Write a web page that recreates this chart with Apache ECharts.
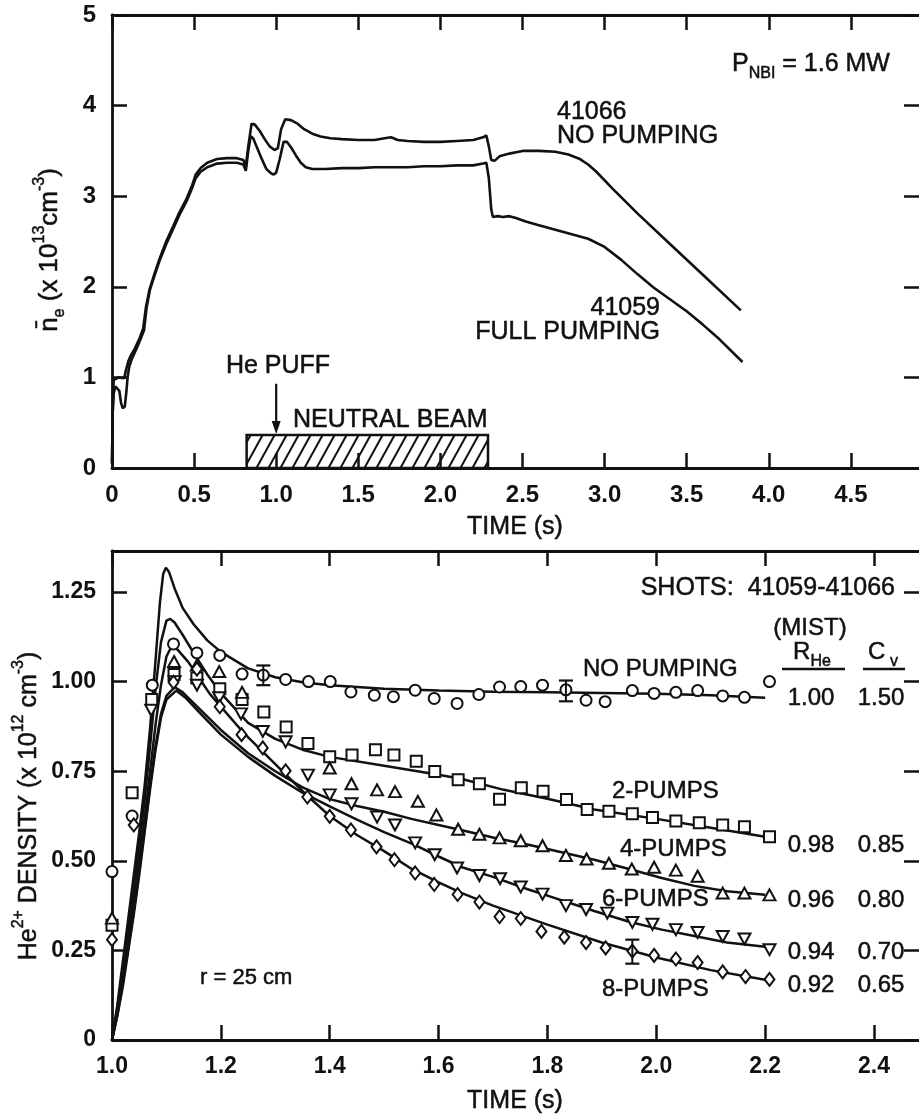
<!DOCTYPE html>
<html><head><meta charset="utf-8">
<script src="https://cdn.jsdelivr.net/npm/echarts@6/dist/echarts.min.js"></script>
<style>html,body{margin:0;padding:0;background:#fff}#c{width:919px;height:1116px}</style>
</head><body><div id="c"></div>
<script>
// ===== Top panel data =====
const topXTicks = [0, 0.5, 1, 1.5, 2, 2.5, 3, 3.5, 4, 4.5];
const topXTickLabels = ['0', '0.5', '1.0', '1.5', '2.0', '2.5', '3.0', '3.5', '4.0', '4.5'];
const topYTicks = [0, 1, 2, 3, 4, 5];
const topYTickLabels = ['0', '1', '2', '3', '4', '5'];
const shot41066 = [[0,0.05],[0.004,0.6],[0.01,0.97],[0.04,1.0],[0.074,0.99],[0.085,1.08],[0.1,1.18],[0.114,1.24],[0.14,1.32],[0.17,1.44],[0.19,1.54],[0.207,1.78],[0.23,1.98],[0.26,2.15],[0.29,2.31],[0.33,2.5],[0.373,2.67],[0.41,2.82],[0.456,2.98],[0.49,3.13],[0.51,3.24],[0.54,3.31],[0.58,3.37],[0.64,3.41],[0.7,3.42],[0.76,3.42],[0.8,3.4],[0.815,3.33],[0.83,3.55],[0.85,3.8],[0.87,3.79],[0.9,3.72],[0.93,3.63],[0.96,3.55],[0.99,3.51],[1.01,3.53],[1.03,3.74],[1.055,3.85],[1.09,3.84],[1.13,3.8],[1.17,3.74],[1.22,3.69],[1.27,3.66],[1.33,3.64],[1.4,3.63],[1.5,3.62],[1.6,3.62],[1.66,3.64],[1.7,3.65],[1.74,3.62],[1.8,3.61],[1.9,3.6],[2.0,3.6],[2.1,3.61],[2.2,3.62],[2.26,3.65],[2.28,3.67],[2.295,3.55],[2.31,3.4],[2.33,3.39],[2.36,3.44],[2.42,3.47],[2.5,3.5],[2.6,3.5],[2.7,3.49],[2.78,3.46],[2.85,3.41],[2.9,3.35],[2.95,3.27],[3.05,3.08],[3.2,2.81],[3.4,2.47],[3.6,2.13],[3.83,1.74]];
const shot41059 = [[0,0.05],[0.004,0.6],[0.01,0.82],[0.02,0.9],[0.03,0.92],[0.045,0.85],[0.055,0.72],[0.065,0.66],[0.078,0.68],[0.088,0.85],[0.095,1.0],[0.105,1.12],[0.12,1.2],[0.15,1.32],[0.18,1.45],[0.195,1.52],[0.21,1.76],[0.23,1.96],[0.26,2.13],[0.29,2.29],[0.33,2.47],[0.373,2.64],[0.41,2.79],[0.456,2.95],[0.49,3.1],[0.51,3.2],[0.54,3.27],[0.58,3.32],[0.64,3.36],[0.7,3.37],[0.76,3.37],[0.8,3.35],[0.815,3.28],[0.83,3.5],[0.845,3.66],[0.86,3.64],[0.88,3.55],[0.91,3.42],[0.94,3.3],[0.97,3.25],[0.985,3.24],[1.0,3.26],[1.02,3.4],[1.045,3.6],[1.065,3.6],[1.09,3.54],[1.12,3.45],[1.15,3.37],[1.18,3.32],[1.22,3.3],[1.3,3.3],[1.4,3.31],[1.5,3.31],[1.6,3.32],[1.7,3.32],[1.8,3.32],[1.9,3.33],[2.0,3.33],[2.1,3.34],[2.2,3.34],[2.26,3.36],[2.28,3.37],[2.295,3.2],[2.31,2.85],[2.32,2.77],[2.35,2.78],[2.38,2.77],[2.42,2.78],[2.46,2.76],[2.52,2.72],[2.6,2.68],[2.7,2.63],[2.8,2.58],[2.9,2.53],[3.0,2.44],[3.1,2.3],[3.2,2.14],[3.3,1.99],[3.4,1.86],[3.5,1.73],[3.6,1.58],[3.7,1.42],[3.84,1.17]];
const neutralBeam = [[0.82, 2.29, 0.365]];   // start time, end time, bar height
const hePuffArrow = [[1.0, 0.93, 0.375]];     // time, arrow top, arrow tip

// ===== Bottom panel data =====
const botXTicks = [1.0, 1.2, 1.4, 1.6, 1.8, 2.0, 2.2, 2.4];
const botXTickLabels = ['1.0', '1.2', '1.4', '1.6', '1.8', '2.0', '2.2', '2.4'];
const botYTicks = [0, 0.25, 0.5, 0.75, 1.0, 1.25];
const botYTickLabels = ['0', '0.25', '0.50', '0.75', '1.00', '1.25'];

const fitNoPump = [[1.0,0],[1.01,0.1],[1.02,0.22],[1.03,0.34],[1.04,0.46],[1.05,0.58],[1.06,0.71],[1.07,0.87],[1.08,1.06],[1.088,1.22],[1.094,1.3],[1.099,1.318],[1.105,1.305],[1.115,1.26],[1.13,1.205],[1.15,1.16],[1.175,1.115],[1.2,1.083],[1.25,1.037],[1.3,1.012],[1.35,0.998],[1.4,0.99],[1.5,0.98],[1.6,0.975],[1.7,0.972],[1.8,0.97],[1.9,0.968],[2.0,0.966],[2.1,0.962],[2.2,0.955]];
const fit2Pumps = [[1.0,0],[1.01,0.09],[1.02,0.2],[1.03,0.31],[1.04,0.42],[1.05,0.54],[1.06,0.67],[1.07,0.82],[1.08,0.98],[1.09,1.11],[1.1,1.17],[1.107,1.175],[1.115,1.165],[1.13,1.13],[1.15,1.08],[1.175,1.02],[1.2,0.968],[1.25,0.885],[1.3,0.84],[1.35,0.81],[1.4,0.79],[1.5,0.765],[1.6,0.74],[1.643,0.728],[1.72,0.698],[1.8,0.673],[1.886,0.643],[2.0,0.617],[2.1,0.592],[2.2,0.567]];
const fit4Pumps = [[1.0,0],[1.01,0.07],[1.02,0.16],[1.03,0.26],[1.04,0.36],[1.05,0.47],[1.06,0.59],[1.07,0.71],[1.08,0.82],[1.09,0.91],[1.1,0.96],[1.115,0.985],[1.13,0.97],[1.15,0.94],[1.2,0.865],[1.25,0.8],[1.3,0.75],[1.35,0.705],[1.4,0.672],[1.45,0.653],[1.5,0.637],[1.55,0.617],[1.6,0.6],[1.643,0.585],[1.7,0.565],[1.765,0.545],[1.8,0.533],[1.886,0.503],[1.95,0.477],[2.01,0.452],[2.07,0.43],[2.13,0.415],[2.2,0.405]];
const fit6Pumps = [[1.0,0],[1.01,0.07],[1.02,0.15],[1.03,0.25],[1.04,0.35],[1.05,0.46],[1.06,0.58],[1.07,0.7],[1.08,0.81],[1.09,0.9],[1.1,0.95],[1.118,0.975],[1.135,0.955],[1.16,0.915],[1.2,0.852],[1.25,0.79],[1.3,0.737],[1.35,0.69],[1.4,0.652],[1.45,0.615],[1.5,0.58],[1.555,0.545],[1.6,0.512],[1.643,0.482],[1.7,0.455],[1.765,0.42],[1.8,0.403],[1.886,0.36],[1.95,0.33],[2.01,0.308],[2.07,0.29],[2.13,0.272],[2.2,0.26]];
const fit8Pumps = [[1.0,0],[1.01,0.08],[1.02,0.18],[1.03,0.28],[1.04,0.38],[1.05,0.5],[1.06,0.62],[1.07,0.75],[1.08,0.88],[1.09,0.99],[1.1,1.07],[1.11,1.1],[1.12,1.09],[1.14,1.055],[1.16,1.01],[1.18,0.965],[1.2,0.93],[1.24,0.86],[1.28,0.8],[1.32,0.74],[1.36,0.68],[1.4,0.625],[1.45,0.572],[1.5,0.527],[1.55,0.478],[1.6,0.44],[1.643,0.41],[1.7,0.375],[1.8,0.322],[1.9,0.272],[2.0,0.23],[2.1,0.195],[2.2,0.168]];

const ptsNoPump = [[1.0,0.47],[1.037,0.625],[1.074,0.99],[1.113,1.105],[1.156,1.08],[1.198,1.073],[1.239,1.021],[1.278,1.018],[1.319,1.006],[1.361,1.0],[1.401,1.0],[1.439,0.971],[1.482,0.962],[1.517,0.958],[1.557,0.976],[1.592,0.953],[1.634,0.939],[1.674,0.964],[1.712,0.985],[1.751,0.986],[1.791,0.99],[1.834,0.977],[1.871,0.948],[1.906,0.944],[1.956,0.975],[1.996,0.967],[2.036,0.97],[2.076,0.975],[2.122,0.96],[2.162,0.956],[2.208,1.0]];
const pts2Pumps = [[1.0,0.32],[1.037,0.69],[1.073,0.95],[1.114,1.02],[1.156,1.01],[1.198,0.98],[1.239,0.95],[1.279,0.915],[1.32,0.873],[1.36,0.827],[1.4,0.79],[1.441,0.795],[1.484,0.81],[1.518,0.795],[1.559,0.778],[1.593,0.749],[1.636,0.726],[1.675,0.715],[1.712,0.672],[1.752,0.704],[1.792,0.694],[1.835,0.671],[1.873,0.643],[1.913,0.638],[1.956,0.631],[1.993,0.621],[2.036,0.611],[2.079,0.606],[2.122,0.6],[2.162,0.595],[2.208,0.567]];
const pts4Pumps = [[1.0,0.34],[1.114,1.056],[1.156,1.046],[1.197,1.028],[1.239,0.97],[1.4,0.759],[1.44,0.715],[1.487,0.698],[1.52,0.693],[1.562,0.666],[1.596,0.628],[1.636,0.588],[1.675,0.574],[1.712,0.564],[1.751,0.556],[1.791,0.542],[1.834,0.515],[1.872,0.505],[1.913,0.493],[1.955,0.477],[1.996,0.482],[2.036,0.474],[2.076,0.457],[2.122,0.41],[2.162,0.41],[2.208,0.405]];
const pts6Pumps = [[1.072,0.92],[1.115,1.0],[1.156,0.99],[1.197,0.955],[1.237,0.91],[1.277,0.861],[1.319,0.832],[1.36,0.739],[1.4,0.684],[1.44,0.659],[1.487,0.622],[1.52,0.6],[1.557,0.55],[1.593,0.517],[1.634,0.48],[1.675,0.459],[1.713,0.45],[1.751,0.427],[1.791,0.407],[1.834,0.375],[1.871,0.364],[1.91,0.354],[1.956,0.328],[1.993,0.323],[2.036,0.308],[2.076,0.3],[2.122,0.289],[2.162,0.282],[2.208,0.252]];
const pts8Pumps = [[1.0,0.28],[1.04,0.6],[1.113,0.998],[1.156,1.035],[1.198,0.93],[1.238,0.852],[1.277,0.815],[1.319,0.751],[1.359,0.678],[1.4,0.624],[1.439,0.586],[1.486,0.539],[1.519,0.503],[1.557,0.466],[1.592,0.434],[1.635,0.406],[1.675,0.385],[1.712,0.344],[1.751,0.339],[1.789,0.303],[1.831,0.287],[1.871,0.272],[1.907,0.257],[1.956,0.248],[1.996,0.236],[2.036,0.226],[2.076,0.216],[2.122,0.19],[2.164,0.177],[2.208,0.169]];
const errorBars = [[1.278,0.99,1.045],[1.834,0.945,1.003],[1.956,0.213,0.28]];

// ===== Chart =====
const INK = '#111';
const FONT = '"Liberation Sans", Arial, sans-serif';
const chart = echarts.init(document.getElementById('c'), null, {renderer: 'canvas'});

function labelFrom(ticks, labels) {
  return v => { for (let i = 0; i < ticks.length; i++) if (Math.abs(ticks[i] - v) < 1e-6) return labels[i]; return ''; };
}
const tickStyle = {show: true, inside: true, length: 15, lineStyle: {color: INK, width: 2.5}};
const lineAx = {show: true, onZero: false, lineStyle: {color: INK, width: 2.8}};

function xAxes(grid, min, max, ticks, labels, fontSize) {
  return [
    {gridIndex: grid, type: 'value', position: 'bottom', min, max, splitLine: {show: false},
     axisLine: lineAx, axisTick: Object.assign({customValues: ticks}, tickStyle),
     axisLabel: {customValues: ticks, formatter: labelFrom(ticks, labels), margin: 15, color: INK,
                 fontFamily: FONT, fontSize: fontSize, fontWeight: 'bold'}},
    {gridIndex: grid, type: 'value', position: 'top', min, max, splitLine: {show: false},
     axisLine: lineAx, axisTick: Object.assign({customValues: ticks}, tickStyle), axisLabel: {show: false}}
  ];
}
function yAxes(grid, min, max, ticks, labels, fontSize) {
  return [
    {gridIndex: grid, type: 'value', position: 'left', min, max, splitLine: {show: false},
     axisLine: lineAx, axisTick: Object.assign({customValues: ticks}, tickStyle),
     axisLabel: {customValues: ticks, formatter: labelFrom(ticks, labels), margin: 16, color: INK,
                 fontFamily: FONT, fontSize: fontSize, fontWeight: 'bold'}},
    {gridIndex: grid, type: 'value', position: 'right', min, max, splitLine: {show: false},
     axisLine: {show: false, onZero: false}, axisTick: Object.assign({customValues: ticks}, tickStyle), axisLabel: {show: false}}
  ];
}

function lineSeries(data, xi, yi, w) {
  return {type: 'line', data, xAxisIndex: xi, yAxisIndex: yi, showSymbol: false, symbol: 'none',
          lineStyle: {color: INK, width: w}, z: 2, silent: true};
}
function scatterSeries(data, symbol, size, rotate) {
  return {type: 'scatter', data, xAxisIndex: 2, yAxisIndex: 2, symbol, symbolSize: size,
          symbolRotate: rotate || 0, z: 4, silent: true,
          itemStyle: {color: '#fff', borderColor: INK, borderWidth: 2, opacity: 1}};
}

const beamSeries = {
  type: 'custom', xAxisIndex: 0, yAxisIndex: 0, data: neutralBeam, z: 3, silent: true,
  renderItem: (params, api) => {
    const p0 = api.coord([api.value(0), api.value(2)]);
    const p1 = api.coord([api.value(1), 0]);
    const x0 = p0[0], y0 = p0[1], x1 = p1[0], y1 = p1[1];
    const h = y1 - y0, dx = h * 0.55, step = 12;
    const children = [];
    for (let c = x0 - dx + 4; c < x1; c += step) {
      let xa = c, ya = y1, xb = c + dx, yb = y0;
      if (xa < x0) { ya = y1 - (x0 - c) / dx * h; xa = x0; }
      if (xb > x1) { yb = y1 - (x1 - c) / dx * h; xb = x1; }
      if (xb <= xa) continue;
      children.push({type: 'line', shape: {x1: xa, y1: ya, x2: xb, y2: yb}, style: {stroke: INK, lineWidth: 2}});
    }
    children.push({type: 'rect', shape: {x: x0, y: y0, width: x1 - x0, height: h},
                   style: {fill: 'none', stroke: INK, lineWidth: 2.5}});
    return {type: 'group', children};
  }
};
const arrowSeries = {
  type: 'custom', xAxisIndex: 0, yAxisIndex: 0, data: hePuffArrow, z: 3, silent: true,
  renderItem: (params, api) => {
    const a = api.coord([api.value(0), api.value(1)]);
    const b = api.coord([api.value(0), api.value(2)]);
    return {type: 'group', children: [
      {type: 'line', shape: {x1: a[0], y1: a[1], x2: b[0], y2: b[1] - 8}, style: {stroke: INK, lineWidth: 2.2}},
      {type: 'polygon', shape: {points: [[b[0] - 4.5, b[1] - 13], [b[0] + 4.5, b[1] - 13], [b[0], b[1]]]}, style: {fill: INK}}
    ]};
  }
};
const errSeries = {
  type: 'custom', xAxisIndex: 2, yAxisIndex: 2, data: errorBars, z: 5, silent: true,
  renderItem: (params, api) => {
    const lo = api.coord([api.value(0), api.value(1)]);
    const hi = api.coord([api.value(0), api.value(2)]);
    const w = 7;
    return {type: 'group', children: [
      {type: 'line', shape: {x1: lo[0], y1: lo[1], x2: hi[0], y2: hi[1]}, style: {stroke: INK, lineWidth: 2}},
      {type: 'line', shape: {x1: lo[0] - w, y1: lo[1], x2: lo[0] + w, y2: lo[1]}, style: {stroke: INK, lineWidth: 2.2}},
      {type: 'line', shape: {x1: hi[0] - w, y1: hi[1], x2: hi[0] + w, y2: hi[1]}, style: {stroke: INK, lineWidth: 2.2}}
    ]};
  }
};

function txt(x, y, text, size, align) {
  return {type: 'text', x, y, silent: true, style: {text, fill: INK, fontFamily: FONT, fontSize: size,
          align: align || 'left', verticalAlign: 'middle', stroke: INK, lineWidth: 0.5}};
}
function richTxt(x, y, text, rich, align, rotation) {
  return {type: 'text', x, y, rotation: rotation || 0, silent: true,
          style: {text, rich, fill: INK, fontFamily: FONT, align: align || 'left', verticalAlign: 'middle'}};
}
const R = (size, va) => ({fontFamily: FONT, fontSize: size, fill: INK, stroke: INK, lineWidth: 0.5,
                          lineHeight: 36, verticalAlign: va || 'middle'});

const graphics = [
  // top panel annotations
  richTxt(732, 64, '{p|P}{s|NBI}{p| = 1.6 MW}', {p: R(25), s: R(16, 'bottom')}),
  txt(557, 112, '41066', 25), txt(557, 136, 'NO PUMPING', 25),
  txt(660, 308, '41059', 25, 'right'), txt(660, 332, 'FULL PUMPING', 25, 'right'),
  txt(278, 366, 'He PUFF', 25, 'center'),
  txt(293, 420, 'NEUTRAL BEAM', 25),
  txt(515, 527, 'TIME (s)', 25, 'center'),
  richTxt(50, 250, '{m|n\u0304}{s|e}{m| (x 10}{u|13}{m|cm}{u|-3}{m|)}',
          {m: R(26), s: R(16, 'bottom'), u: R(16, 'top')}, 'center', Math.PI / 2),
  // bottom panel annotations
  txt(895, 588, 'SHOTS:  41059-41066', 25, 'right'),
  txt(810, 628, '(MIST)', 24, 'center'),
  richTxt(812, 652, '{p|R}{s|He}', {p: R(24), s: R(16, 'bottom')}, 'center'),
  richTxt(883, 652, '{p|C}{s| v}', {p: R(24), s: R(16, 'bottom')}, 'center'),
  {type: 'line', silent: true, shape: {x1: 782, y1: 669, x2: 845, y2: 669}, style: {stroke: INK, lineWidth: 2.5}},
  {type: 'line', silent: true, shape: {x1: 863, y1: 669, x2: 905, y2: 669}, style: {stroke: INK, lineWidth: 2.5}},
  txt(583, 669, 'NO PUMPING', 24),
  txt(811, 698, '1.00', 24, 'center'), txt(881, 698, '1.50', 24, 'center'),
  txt(612, 791, '2-PUMPS', 24),
  txt(811, 845, '0.98', 24, 'center'), txt(881, 845, '0.85', 24, 'center'),
  txt(620, 849, '4-PUMPS', 24),
  txt(811, 900, '0.96', 24, 'center'), txt(881, 900, '0.80', 24, 'center'),
  txt(602, 899, '6-PUMPS', 24),
  txt(811, 952, '0.94', 24, 'center'), txt(881, 952, '0.70', 24, 'center'),
  txt(811, 985, '0.92', 24, 'center'), txt(881, 985, '0.65', 24, 'center'),
  txt(602, 989, '8-PUMPS', 24),
  txt(200, 978, 'r = 25 cm', 22),
  txt(515, 1101, 'TIME (s)', 25, 'center'),
  richTxt(29, 806, '{m|He}{u|2+}{m| DENSITY (x 10}{u|12}{m| cm}{u|-3}{m|)}',
          {m: R(25), u: R(16, 'top')}, 'center', Math.PI / 2)
];

const option = {
  animation: false,
  backgroundColor: '#fff',
  grid: [
    {left: 112, top: 15, width: 807, height: 453},
    {left: 112, top: 551, width: 807, height: 489}
  ],
  xAxis: [].concat(xAxes(0, 0, 4.915, topXTicks, topXTickLabels, 24),
                   xAxes(1, 1.0, 2.4827, botXTicks, botXTickLabels, 23)),
  yAxis: [].concat(yAxes(0, 0, 5, topYTicks, topYTickLabels, 24),
                   yAxes(1, 0, 1.3644, botYTicks, botYTickLabels, 23)),
  series: [
    lineSeries(shot41066, 0, 0, 2.6),
    lineSeries(shot41059, 0, 0, 2.6),
    beamSeries, arrowSeries,
    lineSeries(fitNoPump, 2, 2, 2.5),
    lineSeries(fit2Pumps, 2, 2, 2.5),
    lineSeries(fit4Pumps, 2, 2, 2.5),
    lineSeries(fit6Pumps, 2, 2, 2.5),
    lineSeries(fit8Pumps, 2, 2, 2.5),
    scatterSeries(ptsNoPump, 'circle', 11),
    scatterSeries(pts2Pumps, 'rect', 11),
    scatterSeries(pts4Pumps, 'triangle', [12, 11]),
    scatterSeries(pts6Pumps, 'triangle', [12, 11], 180),
    scatterSeries(pts8Pumps, 'diamond', [10, 13]),
    errSeries
  ],
  graphic: graphics
};
chart.setOption(option);
</script></body></html>
